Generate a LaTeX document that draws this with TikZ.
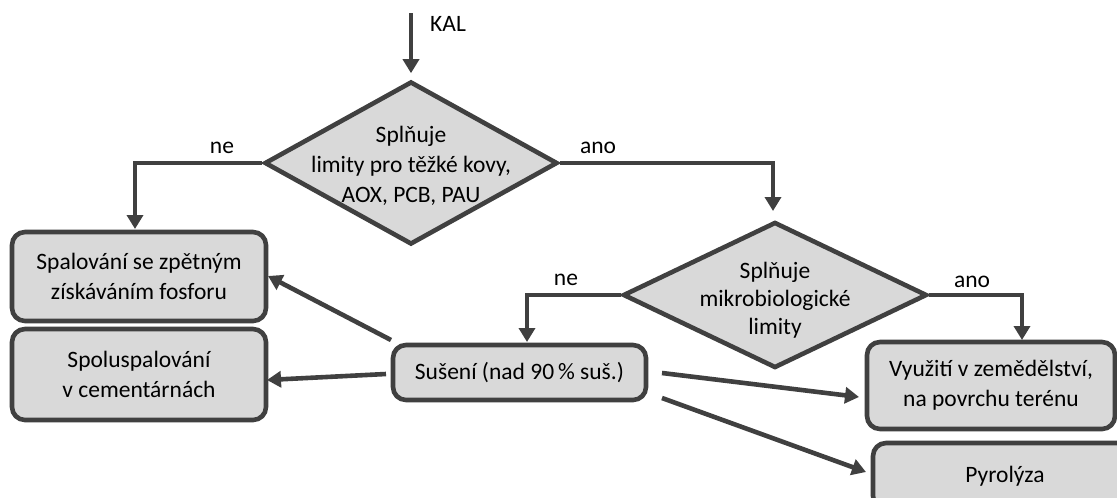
\documentclass[tikz,border=0pt]{standalone}
\usepackage{fontspec}
\setmainfont{Carlito}
\usetikzlibrary{arrows.meta,shapes.geometric,calc}
\definecolor{ln}{HTML}{404040}
\definecolor{fl}{HTML}{D9D9D9}
\tikzset{
  box/.style={draw=ln, fill=fl, line width=4.6pt, rounded corners=13pt, inner sep=0pt, align=center},
  dia/.style={draw=ln, fill=fl, line width=4.6pt, diamond, inner sep=0pt},
  dtext/.style={align=center, inner sep=0pt},
  arr/.style={draw=ln, line width=4.6pt, -{Triangle[width=16pt,length=14pt]}},
  lbl/.style={inner sep=0pt}
}
\begin{document}
\begin{tikzpicture}[x=1pt,y=-1pt,font=\fontsize{23.5}{30}\selectfont]
\clip (0,0) rectangle (1117,498);
\fill[white] (0,0) rectangle (1117,498);
% diamonds
\node[dia, minimum width=293pt, minimum height=163pt] (d1) at (411,163) {};
\node[dtext] (d1t) at (411,166) {Splňuje\\limity pro těžké kovy,\\AOX, PCB, PAU};
\node[dia, minimum width=304pt, minimum height=146pt] (d2) at (775,295) {};
\node[dtext, font=\fontsize{23.5}{28}\selectfont] (d2t) at (775,300) {Splňuje\\mikrobiologické\\limity};
% boxes
\node[box, minimum width=254pt, minimum height=89pt] (b1) at (139,276.5) {Spalování se zpětným\\získáváním fosforu};
\node[box, minimum width=254pt, minimum height=91pt] (b2) at (139,374.5) {Spoluspalování\\v cementárnách};
\node[box, minimum width=253pt, minimum height=55pt] (su) at (519.5,372.5) {Sušení (nad 90\,\% suš.)};
\node[box, minimum width=248pt, minimum height=87pt] (vy) at (991,385.5) {Využití v zemědělství,\\na povrchu terénu};
\node[box, minimum width=264pt, minimum height=66pt] (py) at (1005,476) {Pyrolýza};
% coordinates
\coordinate (kal) at (411,13);
\coordinate (n1) at (135,229);
\coordinate (a1) at (773,211);
\coordinate (n2) at (527,342);
\coordinate (a2) at (1022,340);
\coordinate (s1) at (391,340);
\coordinate (e1) at (268,276);
\coordinate (s2) at (386,374);
\coordinate (e2) at (267,380);
\coordinate (s3) at (662,373);
\coordinate (e3) at (859,397);
\coordinate (s4) at (662,398);
\coordinate (e4) at (866,472);
% connectors
\draw[arr] (kal) -- ($(d1.north)+(0,-6)$);
\draw[arr] (d1.west) -| (n1);
\draw[arr] (d1.east) -| (a1);
\draw[arr] (d2.west) -| (n2);
\draw[arr] (d2.east) -| (a2);
\draw[arr] (s1) -- (e1);
\draw[arr] (s2) -- (e2);
\draw[arr] (s3) -- (e3);
\draw[arr] (s4) -- (e4);
% labels
\node[lbl, anchor=west] (kl) at (430,24) {KAL};
\node[lbl] (l1) at (222,148) {ne};
\node[lbl] (l2) at (598,148) {ano};
\node[lbl] (l3) at (566,280) {ne};
\node[lbl] (l4) at (972,282) {ano};
\end{tikzpicture}
\end{document}
